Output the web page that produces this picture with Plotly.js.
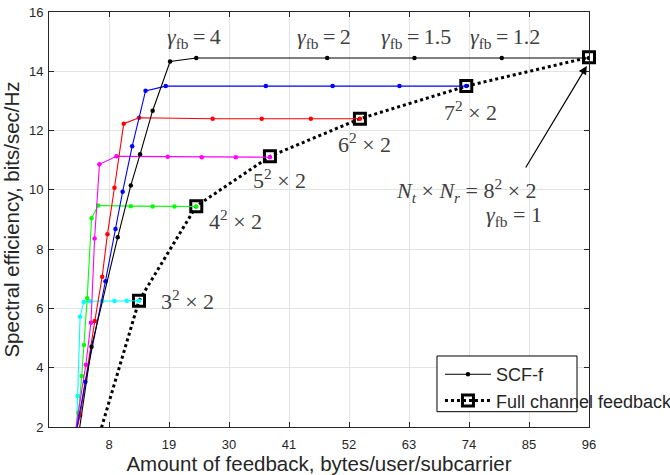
<!DOCTYPE html>
<html>
<head>
<meta charset="utf-8">
<script src="https://cdn.plot.ly/plotly-3.0.1.min.js"></script>
<style>html,body{margin:0;padding:0;background:#fff;overflow:hidden;}#chart{width:670px;height:475px;}</style>
</head>
<body>
<div id="chart"></div>
<script>
// SCF-f curves (bytes/user/subcarrier, spectral efficiency)
const scf8x = [96, 80, 64, 48, 24, 19.2, 16, 13.7, 12, 9.6, 4.8, 2.4];
const scf8y = [14.45, 14.45, 14.45, 14.45, 14.45, 14.33, 12.67, 11.2, 10.15, 8.4, 4.71, 1.7];
const scf7x = [73.5, 61.25, 49, 36.75, 18.4, 14.7, 12.25, 10.5, 9.19, 7.35, 3.675, 1.84];
const scf7y = [13.5, 13.5, 13.5, 13.5, 13.5, 13.34, 11.47, 9.94, 8.68, 6.92, 3.53, 1.7];
const scf6x = [54, 45, 36, 27, 13.5, 10.7, 9, 7.71, 6.75, 5.4, 2.7, 1.35];
const scf6y = [12.4, 12.4, 12.4, 12.4, 12.43, 12.23, 10.07, 8.5, 7.07, 5.58, 2.4, 1.3];
const scf5x = [37.5, 31.25, 25, 18.75, 9.375, 6.25, 5.36, 4.69, 3.75, 1.875];
const scf5y = [11.1, 11.1, 11.1, 11.12, 11.13, 10.86, 8.36, 5.52, 4.1, 1.9];
const scf4x = [24, 20, 16, 12, 6, 4.8, 4, 3.43, 3, 2.4, 1.2];
const scf4y = [9.44, 9.44, 9.44, 9.45, 9.47, 9.04, 6.34, 4.77, 3.72, 2.49, 0.8];
const scf3x = [13.5, 11.25, 9, 6.75, 4.5, 3.375, 2.7, 2.25, 1.93];
const scf3y = [6.26, 6.26, 6.25, 6.25, 6.24, 6.22, 5.72, 3.05, 1.5];
// Full channel feedback
const fullX = [6, 13.5, 24, 37.5, 54, 73.5, 96];
const fullY = [1.59, 6.26, 9.45, 11.13, 12.4, 13.5, 14.47];
const fullLabels = ['', '3<sup>2</sup> \u00d7 2', '4<sup>2</sup> \u00d7 2', '5<sup>2</sup> \u00d7 2', '6<sup>2</sup> \u00d7 2', '7<sup>2</sup> \u00d7 2', ''];
const xTicks = [8, 19, 30, 41, 52, 63, 74, 85, 96];
const gammaLabels = ['4', '2', '1.5', '1.2'];

const traces = [];
// bottom segment of the dotted line (no markers)
traces.push({x: fullX.slice(0, 2), y: fullY.slice(0, 2), mode: 'lines', showlegend: false,
  line: {color: '#000', width: 3, dash: 'dot'}, hoverinfo: 'skip'});
traces.push({x: fullX.slice(1), y: fullY.slice(1), mode: 'lines+markers', name: 'Full channel feedback',
  legendrank: 2, cliponaxis: false,
  line: {color: '#000', width: 3, dash: 'dot'},
  marker: {symbol: 'square', size: 11, color: 'rgba(255,255,255,0)', line: {color: '#000', width: 3}}});
const cols = [['#00ffff', scf3x, scf3y], ['#00ff00', scf4x, scf4y], ['#ff00ff', scf5x, scf5y],
  ['#ff0000', scf6x, scf6y], ['#0000ff', scf7x, scf7y]];
cols.forEach(c => traces.push({x: c[1], y: c[2], mode: 'lines+markers', showlegend: false,
  line: {color: c[0], width: 1.1}, marker: {color: c[0], size: 4.5}}));
traces.push({x: scf8x, y: scf8y, mode: 'lines+markers', name: 'SCF-f', legendrank: 1,
  line: {color: '#000', width: 1.1}, marker: {color: '#000', size: 4.5}});

const tf = {family: 'Liberation Serif, serif', size: 22, color: '#404040'};
const ann = [];
const gx = [23.6, 47.4, 64.3, 80.6];
gammaLabels.forEach((g, i) => ann.push({x: gx[i], y: 15.12, xref: 'x', yref: 'y', showarrow: false,
  text: '<i>\u03b3</i><sub>fb</sub>\u2009=\u2009' + g, font: tf}));
const lpos = [null, [22.3, 6.28], [31.1, 8.98], [39.2, 10.37], [54.9, 11.58], [74.2, 12.66], null];
fullLabels.forEach((t, i) => { if (t) ann.push({x: lpos[i][0], y: lpos[i][1], xref: 'x', yref: 'y',
  showarrow: false, text: t, font: tf}); });
ann.push({x: 73.6, y: 9.99, xref: 'x', yref: 'y', showarrow: false,
  text: '<i>N</i><sub><i>t</i></sub> \u00d7 <i>N</i><sub><i>r</i></sub> = 8<sup>2</sup> \u00d7 2', font: tf});
ann.push({x: 82.2, y: 9.12, xref: 'x', yref: 'y', showarrow: false,
  text: '<i>\u03b3</i><sub>fb</sub> = 1', font: tf});
ann.push({x: 95.6, y: 14.18, xref: 'x', yref: 'y', showarrow: true, text: '', ax: -62, ay: 103,
  arrowhead: 2, arrowsize: 1.4, arrowwidth: 1.2, arrowcolor: '#000'});

const axf = {family: 'Liberation Sans, Arial, sans-serif', size: 13, color: '#262626'};
const titf = {family: 'Liberation Sans, Arial, sans-serif', size: 20.5, color: '#262626'};
const layout = {
  width: 670, height: 475,
  margin: {l: 49, r: 81, t: 12, b: 48, autoexpand: false},
  paper_bgcolor: '#fff', plot_bgcolor: '#fff',
  showlegend: true,
  xaxis: {range: [-3, 96], tickvals: xTicks, showgrid: true, gridcolor: '#e3e3e3', gridwidth: 1,
    zeroline: false, showline: true, linecolor: '#262626', linewidth: 1, mirror: 'ticks',
    ticks: 'inside', ticklen: 5, tickcolor: '#262626', tickfont: axf, ticklabelstandoff: 5,
    title: {text: 'Amount of feedback, bytes/user/subcarrier', standoff: 0, font: titf}},
  yaxis: {range: [2, 16], dtick: 2, tick0: 2, showgrid: true, gridcolor: '#e3e3e3', gridwidth: 1,
    zeroline: false, showline: true, linecolor: '#262626', linewidth: 1, mirror: 'ticks',
    ticks: 'inside', ticklen: 5, tickcolor: '#262626', tickfont: axf, ticklabelstandoff: 2,
    title: {text: 'Spectral efficiency, bits/sec/Hz', standoff: 3, font: titf}},
  legend: {x: 0.724, y: 0.1711, xanchor: 'left', yanchor: 'top', bgcolor: 'rgba(0,0,0,0)',
    borderwidth: 0, itemwidth: 46, traceorder: 'normal',
    font: {family: 'Liberation Sans, Arial, sans-serif', size: 18, color: '#262626'}},
  shapes: [{type: 'rect', xref: 'paper', yref: 'paper', x0: 0.7185, x1: 0.9778, y0: 0.0369, y1: 0.1711,
    line: {color: '#000', width: 1}, fillcolor: '#fff', layer: 'above'}],
  annotations: ann
};
Plotly.newPlot('chart', traces, layout, {displayModeBar: false, staticPlot: true});
</script>
</body>
</html>
